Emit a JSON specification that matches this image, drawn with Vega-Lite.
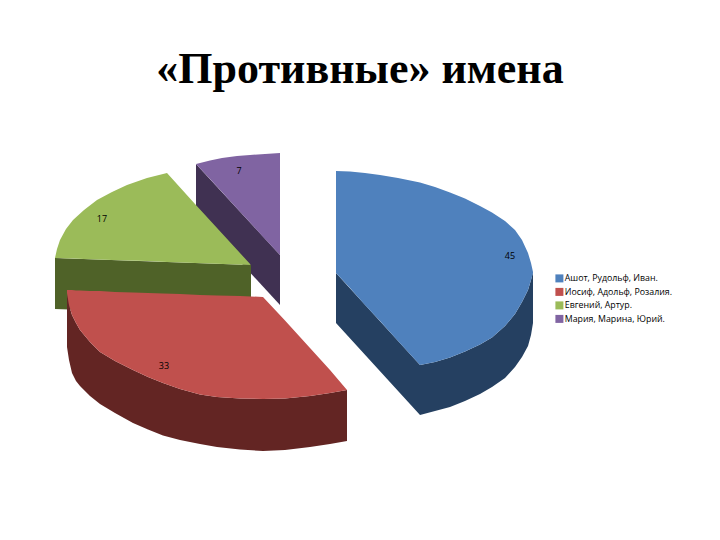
{
  "$schema": "https://vega.github.io/schema/vega-lite/v6.json",
  "width": 720,
  "height": 440,
  "autosize": "none",
  "padding": {"left": 0, "top": 100, "right": 0, "bottom": 0},
  "background": "white",
  "title": {
    "text": "«Противные» имена",
    "anchor": "middle",
    "font": "Liberation Serif",
    "fontSize": 44,
    "fontWeight": "bold",
    "color": "black",
    "baseline": "alphabetic",
    "offset": -27
  },
  "config": {"view": {"stroke": null}},
  "datasets": {
    "walls": [
      {"name": "Мария, Марина, Юрий.", "x": 196, "y": 164, "y2": 214},
      {"name": "Мария, Марина, Юрий.", "x": 280, "y": 255, "y2": 305},
      {"name": "Евгений, Артур.", "x": 55, "y": 258, "y2": 309},
      {"name": "Евгений, Артур.", "x": 251, "y": 265, "y2": 316},
      {"name": "Ашот, Рудольф, Иван.", "x": 336, "y": 273, "y2": 323},
      {"name": "Ашот, Рудольф, Иван.", "x": 420, "y": 365, "y2": 415},
      {"name": "Ашот, Рудольф, Иван.", "x": 435, "y": 362, "y2": 411},
      {"name": "Ашот, Рудольф, Иван.", "x": 450, "y": 357.5, "y2": 407},
      {"name": "Ашот, Рудольф, Иван.", "x": 465, "y": 351.5, "y2": 401},
      {"name": "Ашот, Рудольф, Иван.", "x": 480, "y": 344.5, "y2": 394},
      {"name": "Ашот, Рудольф, Иван.", "x": 492, "y": 337.5, "y2": 387},
      {"name": "Ашот, Рудольф, Иван.", "x": 505, "y": 326, "y2": 378},
      {"name": "Ашот, Рудольф, Иван.", "x": 515, "y": 314, "y2": 367},
      {"name": "Ашот, Рудольф, Иван.", "x": 522, "y": 302, "y2": 357},
      {"name": "Ашот, Рудольф, Иван.", "x": 528, "y": 290, "y2": 346},
      {"name": "Ашот, Рудольф, Иван.", "x": 531, "y": 280, "y2": 335},
      {"name": "Ашот, Рудольф, Иван.", "x": 533, "y": 272, "y2": 323},
      {"name": "Иосиф, Адольф, Розалия.", "x": 67, "y": 293, "y2": 347},
      {"name": "Иосиф, Адольф, Розалия.", "x": 69, "y": 305, "y2": 360},
      {"name": "Иосиф, Адольф, Розалия.", "x": 72, "y": 315, "y2": 373},
      {"name": "Иосиф, Адольф, Розалия.", "x": 76, "y": 323, "y2": 381},
      {"name": "Иосиф, Адольф, Розалия.", "x": 80, "y": 330, "y2": 386},
      {"name": "Иосиф, Адольф, Розалия.", "x": 90, "y": 342, "y2": 396},
      {"name": "Иосиф, Адольф, Розалия.", "x": 100, "y": 352, "y2": 404},
      {"name": "Иосиф, Адольф, Розалия.", "x": 115, "y": 361, "y2": 413},
      {"name": "Иосиф, Адольф, Розалия.", "x": 133, "y": 370, "y2": 423},
      {"name": "Иосиф, Адольф, Розалия.", "x": 148, "y": 377, "y2": 429.5},
      {"name": "Иосиф, Адольф, Розалия.", "x": 163, "y": 383, "y2": 435.5},
      {"name": "Иосиф, Адольф, Розалия.", "x": 180, "y": 389, "y2": 440},
      {"name": "Иосиф, Адольф, Розалия.", "x": 200, "y": 394.5, "y2": 444},
      {"name": "Иосиф, Адольф, Розалия.", "x": 217, "y": 397, "y2": 447},
      {"name": "Иосиф, Адольф, Розалия.", "x": 240, "y": 398.5, "y2": 449.5},
      {"name": "Иосиф, Адольф, Розалия.", "x": 263, "y": 399, "y2": 451},
      {"name": "Иосиф, Адольф, Розалия.", "x": 285, "y": 398.5, "y2": 450},
      {"name": "Иосиф, Адольф, Розалия.", "x": 310, "y": 396, "y2": 447},
      {"name": "Иосиф, Адольф, Розалия.", "x": 330, "y": 393, "y2": 444},
      {"name": "Иосиф, Адольф, Розалия.", "x": 347, "y": 390, "y2": 441}
    ],
    "tops": [
      {"name": "Ашот, Рудольф, Иван.", "x": 336, "y": 171, "y2": 273},
      {"name": "Ашот, Рудольф, Иван.", "x": 350, "y": 171.5, "y2": 288},
      {"name": "Ашот, Рудольф, Иван.", "x": 365, "y": 173, "y2": 305},
      {"name": "Ашот, Рудольф, Иван.", "x": 380, "y": 175, "y2": 321},
      {"name": "Ашот, Рудольф, Иван.", "x": 398, "y": 178, "y2": 341},
      {"name": "Ашот, Рудольф, Иван.", "x": 420, "y": 182.5, "y2": 365},
      {"name": "Ашот, Рудольф, Иван.", "x": 435, "y": 187, "y2": 362},
      {"name": "Ашот, Рудольф, Иван.", "x": 450, "y": 192.5, "y2": 357.5},
      {"name": "Ашот, Рудольф, Иван.", "x": 465, "y": 198.5, "y2": 351.5},
      {"name": "Ашот, Рудольф, Иван.", "x": 480, "y": 206, "y2": 344.5},
      {"name": "Ашот, Рудольф, Иван.", "x": 492, "y": 212.5, "y2": 337.5},
      {"name": "Ашот, Рудольф, Иван.", "x": 505, "y": 221, "y2": 326},
      {"name": "Ашот, Рудольф, Иван.", "x": 515, "y": 230, "y2": 314},
      {"name": "Ашот, Рудольф, Иван.", "x": 522, "y": 240, "y2": 302},
      {"name": "Ашот, Рудольф, Иван.", "x": 528, "y": 253, "y2": 290},
      {"name": "Ашот, Рудольф, Иван.", "x": 531, "y": 263, "y2": 280},
      {"name": "Ашот, Рудольф, Иван.", "x": 533, "y": 272, "y2": 273},
      {"name": "Иосиф, Адольф, Розалия.", "x": 67, "y": 290, "y2": 293},
      {"name": "Иосиф, Адольф, Розалия.", "x": 69, "y": 290, "y2": 305},
      {"name": "Иосиф, Адольф, Розалия.", "x": 72, "y": 290, "y2": 315},
      {"name": "Иосиф, Адольф, Розалия.", "x": 76, "y": 290.5, "y2": 323},
      {"name": "Иосиф, Адольф, Розалия.", "x": 80, "y": 290.5, "y2": 330},
      {"name": "Иосиф, Адольф, Розалия.", "x": 90, "y": 291, "y2": 342},
      {"name": "Иосиф, Адольф, Розалия.", "x": 100, "y": 291, "y2": 352},
      {"name": "Иосиф, Адольф, Розалия.", "x": 115, "y": 292, "y2": 361},
      {"name": "Иосиф, Адольф, Розалия.", "x": 133, "y": 292.5, "y2": 370},
      {"name": "Иосиф, Адольф, Розалия.", "x": 148, "y": 293, "y2": 377},
      {"name": "Иосиф, Адольф, Розалия.", "x": 163, "y": 293.5, "y2": 383},
      {"name": "Иосиф, Адольф, Розалия.", "x": 180, "y": 294, "y2": 389},
      {"name": "Иосиф, Адольф, Розалия.", "x": 200, "y": 295, "y2": 394.5},
      {"name": "Иосиф, Адольф, Розалия.", "x": 217, "y": 295.5, "y2": 397},
      {"name": "Иосиф, Адольф, Розалия.", "x": 240, "y": 296, "y2": 398.5},
      {"name": "Иосиф, Адольф, Розалия.", "x": 263, "y": 297, "y2": 399},
      {"name": "Иосиф, Адольф, Розалия.", "x": 285, "y": 320.5, "y2": 398.5},
      {"name": "Иосиф, Адольф, Розалия.", "x": 310, "y": 348, "y2": 396},
      {"name": "Иосиф, Адольф, Розалия.", "x": 330, "y": 370, "y2": 393},
      {"name": "Иосиф, Адольф, Розалия.", "x": 347, "y": 390, "y2": 390},
      {"name": "Евгений, Артур.", "x": 55, "y": 258, "y2": 258},
      {"name": "Евгений, Артур.", "x": 57, "y": 249, "y2": 258},
      {"name": "Евгений, Артур.", "x": 60, "y": 240, "y2": 258},
      {"name": "Евгений, Артур.", "x": 66, "y": 229, "y2": 258.5},
      {"name": "Евгений, Артур.", "x": 73, "y": 220, "y2": 258.5},
      {"name": "Евгений, Артур.", "x": 84, "y": 210, "y2": 259},
      {"name": "Евгений, Артур.", "x": 97, "y": 200, "y2": 259.5},
      {"name": "Евгений, Артур.", "x": 112, "y": 192, "y2": 260},
      {"name": "Евгений, Артур.", "x": 127, "y": 185, "y2": 260.5},
      {"name": "Евгений, Артур.", "x": 147, "y": 178, "y2": 261},
      {"name": "Евгений, Артур.", "x": 167, "y": 173, "y2": 262},
      {"name": "Евгений, Артур.", "x": 195, "y": 204, "y2": 263},
      {"name": "Евгений, Артур.", "x": 251, "y": 265, "y2": 265},
      {"name": "Мария, Марина, Юрий.", "x": 196, "y": 164, "y2": 164},
      {"name": "Мария, Марина, Юрий.", "x": 210, "y": 160.5, "y2": 179},
      {"name": "Мария, Марина, Юрий.", "x": 222, "y": 158, "y2": 192},
      {"name": "Мария, Марина, Юрий.", "x": 237, "y": 156, "y2": 208.5},
      {"name": "Мария, Марина, Юрий.", "x": 250, "y": 155, "y2": 222.5},
      {"name": "Мария, Марина, Юрий.", "x": 265, "y": 154, "y2": 239},
      {"name": "Мария, Марина, Юрий.", "x": 280, "y": 153, "y2": 255}
    ],
    "labels": [
      {"value": 45, "x": 510, "y": 256},
      {"value": 33, "x": 164, "y": 366},
      {"value": 17, "x": 102, "y": 219},
      {"value": 7, "x": 239, "y": 171}
    ]
  },
  "encoding": {
    "x": {"field": "x", "type": "quantitative", "axis": null, "scale": {"domain": [0, 720], "nice": false, "zero": false}},
    "y": {"field": "y", "type": "quantitative", "axis": null, "scale": {"domain": [540, 100], "nice": false, "zero": false}}
  },
  "layer": [
    {
      "data": {"name": "walls"},
      "mark": {"type": "area", "clip": false},
      "encoding": {
        "y2": {"field": "y2"},
        "color": {
          "field": "name",
          "type": "nominal",
          "legend": null,
          "scale": {
            "domain": ["Ашот, Рудольф, Иван.", "Иосиф, Адольф, Розалия.", "Евгений, Артур.", "Мария, Марина, Юрий."],
            "range": ["#254061", "#632523", "#4F6228", "#403152"]
          }
        }
      }
    },
    {
      "data": {"name": "tops"},
      "mark": {"type": "area", "clip": false},
      "encoding": {
        "y2": {"field": "y2"},
        "color": {
          "field": "name",
          "type": "nominal",
          "scale": {
            "domain": ["Ашот, Рудольф, Иван.", "Иосиф, Адольф, Розалия.", "Евгений, Артур.", "Мария, Марина, Юрий."],
            "range": ["#4F81BD", "#C0504D", "#9BBB59", "#8064A2"]
          },
          "legend": {
            "title": null,
            "orient": "none",
            "legendX": 555,
            "legendY": 174,
            "symbolType": "square",
            "symbolSize": 64,
            "symbolOpacity": 1,
            "symbolStrokeWidth": 0,
            "labelFont": "Open Sans",
            "labelFontSize": 8.8,
            "labelColor": "black",
            "labelOffset": 1,
            "rowPadding": 3.5,
            "labelLimit": 200
          }
        }
      }
    },
    {
      "data": {"name": "labels"},
      "mark": {"type": "text", "font": "Open Sans", "fontSize": 9, "color": "black"},
      "encoding": {"text": {"field": "value", "type": "quantitative"}}
    }
  ],
  "resolve": {"scale": {"color": "independent"}}
}
